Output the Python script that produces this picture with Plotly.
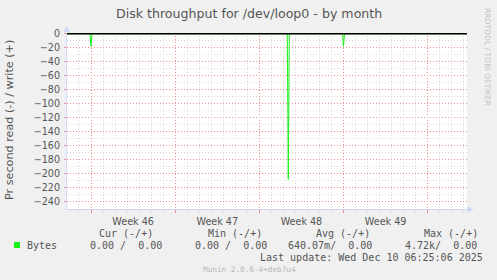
import plotly.graph_objects as go

# ---------------- data ----------------
chart_title = "Disk throughput for /dev/loop0 - by month"
y_title = "Pr second read (-) / write (+)"
watermark = "RRDTOOL / TOBI OETIKER"

times = ["2025-11-08 00:05", "2025-11-09 22:00", "2025-11-10 00:00", "2025-11-10 02:00",
         "2025-11-26 07:45", "2025-11-26 09:45", "2025-11-26 11:45",
         "2025-11-30 22:00", "2025-12-01 00:00", "2025-12-01 02:00", "2025-12-11 06:25"]
read_vals = [0, 0, -18, 0, 0, -208, 0, 0, -18, 0, 0]
write_vals = [0, 0, 0, 0, 0, 0, 0, 0, 0, 0, 0]

x_range = ["2025-11-08 00:05", "2025-12-11 06:25"]
y_range = [-250.4, 1.1]

series_name = "Bytes"
stat_headers = ["Cur (-/+)", "Min (-/+)", "Avg (-/+)", "Max (-/+)"]
stat_values = ["0.00 /  0.00", "0.00 /  0.00", "640.07m/  0.00", "4.72k/  0.00"]
last_update = "Last update: Wed Dec 10 06:25:06 2025"
footer = "Munin 2.0.6-4+deb7u4"

# ---------------- styles ----------------
W, H = 497, 280
L, R, T, B = 67, 30, 33, 71
PW, PH = W - L - R, H - T - B
GREEN = "#19f019"
AXIS = "#CFD6F8"
MAJ = "#EC8E8E"
MIN = "#DADADA"
FONT = "DejaVu Sans"
MONO = "DejaVu Sans Mono"
TXT = "#555555"


def px(x):
    return (x - L) / PW


def py(y):
    return (H - B - y) / PH


fig = go.Figure()
fig.add_trace(go.Scatter(x=times, y=read_vals, mode="lines",
                         line=dict(color=GREEN, width=1), name=series_name,
                         hoverinfo="skip"))
fig.add_trace(go.Scatter(x=times, y=write_vals, mode="lines",
                         line=dict(color="#000000", width=1.6), showlegend=False,
                         hoverinfo="skip"))

fig.update_layout(
    width=W, height=H,
    margin=dict(l=L, r=R, t=T, b=B, pad=0),
    paper_bgcolor="#F0F0F0", plot_bgcolor="#FFFFFF",
    showlegend=False,
    font=dict(family=FONT, size=9.6, color=TXT),
)

fig.update_xaxes(
    type="date", range=x_range,
    tick0="2025-11-10", dtick=7 * 86400000,
    ticklabelmode="period", tickformat="Week %V",
    showgrid=True, gridcolor=MAJ, griddash="1px,2px", gridwidth=1,
    ticks="outside", ticklen=3, tickcolor=MAJ, tickwidth=1,
    showline=True, linecolor=AXIS, linewidth=1,
    zeroline=False,
    tickfont=dict(family=FONT, size=9.6, color=TXT),
    minor=dict(dtick=86400000, showgrid=True, gridcolor=MIN, griddash="1px,2px",
               gridwidth=1, ticks="outside", ticklen=2, tickcolor=MIN),
)
fig.update_yaxes(
    range=y_range, tick0=0, dtick=20,
    showgrid=True, gridcolor=MAJ, griddash="1px,2px", gridwidth=1,
    ticks="outside", ticklen=2, tickcolor=MAJ,
    showline=True, linecolor=AXIS, linewidth=1,
    zeroline=False,
    tickfont=dict(family=FONT, size=9.6, color=TXT),
    ticklabelstandoff=2,
    minor=dict(dtick=10, showgrid=True, gridcolor=MIN, griddash="1px,2px", gridwidth=1),
)

# axis arrows
fig.add_shape(type="path", xref="paper", yref="paper",
              path=f"M {px(63.5)} {py(32)} L {px(66.5)} {py(26)} L {px(69.5)} {py(32)} Z",
              fillcolor=AXIS, line=dict(width=0))
fig.add_shape(type="path", xref="paper", yref="paper",
              path=f"M {px(467.5)} {py(206)} L {px(473.5)} {py(209.5)} L {px(467.5)} {py(213)} Z",
              fillcolor=AXIS, line=dict(width=0))

ann = []
ann.append(dict(text=chart_title, x=px(248.5), y=py(13.5), xanchor="center", yanchor="middle",
                font=dict(family=FONT, size=12.6, color=TXT)))
ann.append(dict(text=y_title, x=px(10), y=py(120), xanchor="center", yanchor="middle",
                textangle=-90, font=dict(family=FONT, size=11.2, color=TXT)))
ann.append(dict(text=watermark, x=px(488), y=py(57), xanchor="center", yanchor="middle",
                textangle=90, font=dict(family=FONT, size=7.6, color="#C4C4C4")))

header_x = [98, 207, 315.3, 423]
value_x = [89, 194, 287, 404]
for hx, h in zip(header_x, stat_headers):
    ann.append(dict(text=h.replace(" ", "&nbsp;"), x=px(hx), y=py(233.3), xanchor="left",
                    yanchor="middle", font=dict(family=MONO, size=10, color=TXT)))
for vx, v in zip(value_x, stat_values):
    ann.append(dict(text=v.replace(" ", "&nbsp;"), x=px(vx), y=py(245.7), xanchor="left",
                    yanchor="middle", font=dict(family=MONO, size=10, color=TXT)))
ann.append(dict(text=series_name, x=px(26), y=py(245.7), xanchor="left", yanchor="middle",
                font=dict(family=MONO, size=10, color=TXT)))
ann.append(dict(text=last_update.replace(" ", "&nbsp;"), x=px(483.6), y=py(257.7),
                xanchor="right", yanchor="middle", font=dict(family=MONO, size=10, color=TXT)))
ann.append(dict(text=footer, x=px(249), y=py(269), xanchor="center", yanchor="middle",
                font=dict(family=MONO, size=7.7, color="#B8B8B8")))
for a in ann:
    a.update(xref="paper", yref="paper", showarrow=False, borderpad=0)
fig.update_layout(annotations=ann)

# legend colour box
fig.add_shape(type="rect", xref="paper", yref="paper",
              x0=px(14), x1=px(20), y0=py(248), y1=py(242),
              fillcolor=GREEN, line=dict(width=0))

fig.write_html("out.html")
